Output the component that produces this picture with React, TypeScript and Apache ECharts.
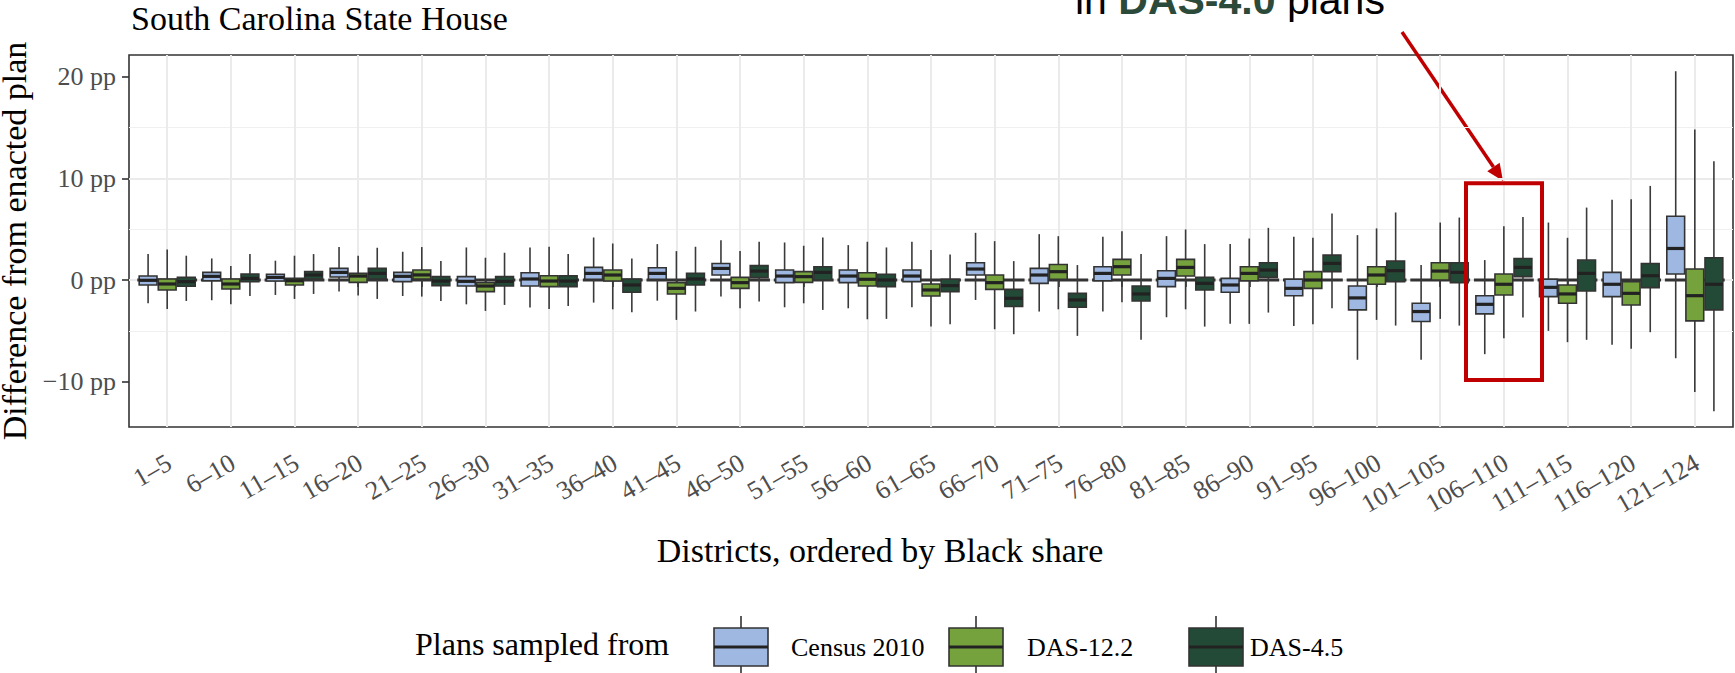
import React, { useEffect, useRef } from 'react';
import * as echarts from 'echarts';

const categories = [
  '1–5', '6–10', '11–15', '16–20', '21–25', '26–30', '31–35', '36–40', '41–45', '46–50',
  '51–55', '56–60', '61–65', '66–70', '71–75', '76–80', '81–85', '86–90', '91–95', '96–100',
  '101–105', '106–110', '111–115', '116–120', '121–124',
];

const seriesNames = ['Census 2010', 'DAS-12.2', 'DAS-4.5'];
const seriesColors = ['#9EB8E2', '#76A23E', '#234A36'];

// [min, q1, median, q3, max] in percentage points
const census2010 = [
  [-2.29, -0.49, -0.03, 0.39, 2.55],
  [-1.99, -0.07, 0.36, 0.75, 2.12],
  [-1.47, -0.10, 0.26, 0.56, 1.90],
  [-1.14, 0.29, 0.75, 1.14, 3.24],
  [-1.57, -0.16, 0.36, 0.75, 2.78],
  [-2.39, -0.59, -0.13, 0.33, 3.20],
  [-2.71, -0.59, 0.10, 0.72, 3.20],
  [-2.22, 0.07, 0.65, 1.24, 4.18],
  [-2.03, 0.07, 0.65, 1.21, 3.53],
  [-1.63, 0.49, 1.14, 1.63, 3.92],
  [-2.68, -0.26, 0.39, 0.98, 3.69],
  [-2.78, -0.26, 0.39, 0.98, 3.43],
  [-2.68, -0.16, 0.39, 0.98, 3.76],
  [-1.96, 0.49, 1.08, 1.70, 4.64],
  [-3.10, -0.33, 0.49, 1.14, 4.51],
  [-3.10, -0.07, 0.65, 1.31, 4.25],
  [-3.66, -0.65, 0.16, 0.91, 4.31],
  [-4.31, -1.20, -0.49, 0.16, 3.53],
  [-4.51, -1.54, -0.82, 0.07, 4.25],
  [-7.84, -2.94, -1.76, -0.59, 4.41],
  [-7.84, -4.08, -3.10, -2.29, 1.47],
  [-7.29, -3.33, -2.39, -1.54, 1.96],
  [-5.00, -1.63, -0.72, 0.07, 5.65],
  [-6.37, -1.63, -0.42, 0.75, 7.90],
  [-7.68, 0.59, 3.10, 6.27, 20.52],
];

const das122 = [
  [-2.84, -0.98, -0.39, 0.10, 3.00],
  [-2.39, -0.88, -0.39, 0.10, 1.37],
  [-1.86, -0.49, -0.07, 0.16, 2.39],
  [-1.53, -0.23, 0.39, 0.65, 2.39],
  [-1.63, 0.10, 0.50, 0.98, 3.24],
  [-3.04, -1.14, -0.59, -0.26, 2.19],
  [-2.84, -0.65, -0.10, 0.42, 3.27],
  [-2.88, -0.10, 0.49, 0.98, 3.59],
  [-3.92, -1.37, -0.82, -0.26, 2.84],
  [-2.78, -0.82, -0.26, 0.26, 2.84],
  [-2.29, -0.23, 0.33, 0.82, 3.37],
  [-3.86, -0.59, 0.07, 0.72, 3.76],
  [-4.58, -1.57, -0.98, -0.39, 2.94],
  [-4.84, -0.92, -0.26, 0.49, 3.82],
  [-2.88, 0.07, 0.82, 1.53, 4.31],
  [-2.19, 0.49, 1.31, 2.03, 4.80],
  [-2.88, 0.39, 1.24, 2.03, 4.97],
  [-4.31, -0.07, 0.65, 1.31, 4.08],
  [-4.35, -0.82, 0.00, 0.82, 4.15],
  [-3.92, -0.42, 0.49, 1.31, 5.07],
  [-3.82, 0.00, 0.88, 1.70, 5.65],
  [-5.72, -1.47, -0.42, 0.59, 5.29],
  [-6.11, -2.29, -1.37, -0.49, 4.15],
  [-6.76, -2.45, -1.31, -0.16, 7.94],
  [-11.0, -4.02, -1.54, 1.08, 14.8],
];

const das45 = [
  [-2.06, -0.62, -0.16, 0.26, 2.39],
  [-1.57, -0.16, 0.16, 0.59, 2.55],
  [-1.37, 0.10, 0.49, 0.82, 2.55],
  [-1.86, 0.10, 0.65, 1.14, 3.17],
  [-2.06, -0.55, -0.10, 0.33, 1.86],
  [-2.45, -0.59, -0.13, 0.33, 2.68],
  [-2.55, -0.65, -0.10, 0.42, 2.55],
  [-3.17, -1.20, -0.49, 0.10, 2.12],
  [-3.10, -0.49, 0.10, 0.65, 3.27],
  [-2.12, 0.23, 0.88, 1.41, 3.76],
  [-2.94, 0.00, 0.75, 1.31, 4.18],
  [-3.82, -0.65, 0.00, 0.56, 3.20],
  [-4.35, -1.14, -0.55, 0.07, 2.50],
  [-5.33, -2.61, -1.80, -0.92, 1.86],
  [-5.49, -2.68, -1.96, -1.31, 1.47],
  [-5.88, -2.06, -1.37, -0.59, 2.55],
  [-4.58, -0.98, -0.33, 0.26, 3.53],
  [-3.20, 0.26, 0.98, 1.70, 5.13],
  [-2.78, 0.82, 1.63, 2.45, 6.54],
  [-4.48, -0.16, 0.92, 1.86, 6.64],
  [-4.48, -0.26, 0.75, 1.70, 6.14],
  [-3.69, 0.33, 1.24, 2.12, 6.20],
  [-5.88, -1.08, 0.65, 1.96, 7.12],
  [-5.13, -0.75, 0.42, 1.63, 9.25],
  [-12.9, -2.94, -0.42, 2.19, 11.67],
];

// Enacted plan reference (difference from itself)
const enacted = [0, 0, 0, 0, 0, 0, 0, 0, 0, 0, 0, 0, 0, 0, 0, 0, 0, 0, 0, 0, 0, 0, 0, 0, 0];

const yTicks = [-10, 0, 10, 20];
const yMin = -14.45;
const yMax = 22.12;

const SERIF = "'Liberation Serif', 'Times New Roman', serif";
const SANS = "'Liberation Sans', Arial, sans-serif";

const PANEL = { left: 129, top: 55, right: 1733, bottom: 427 };
const EXPAND = 0.6; // discrete expansion (in category units)

function boxRenderer(slot: number, color: string) {
  return (params: any, api: any) => {
    const x = api.value(0);
    const band = api.size([1, 0])[0];
    const lo = api.coord([x, api.value(1)]);
    const q1 = api.coord([x, api.value(2)]);
    const md = api.coord([x, api.value(3)]);
    const q3 = api.coord([x, api.value(4)]);
    const hi = api.coord([x, api.value(5)]);
    const cx = lo[0] + slot * band * 0.3;
    const w = band * 0.28;
    return {
      type: 'group',
      children: [
        {
          type: 'line',
          shape: { x1: cx, y1: hi[1], x2: cx, y2: lo[1] },
          style: { stroke: '#3a3a3a', lineWidth: 1.6 },
        },
        {
          type: 'rect',
          shape: { x: cx - w / 2, y: q3[1], width: w, height: q1[1] - q3[1] },
          style: { fill: color, stroke: '#333333', lineWidth: 1.6 },
        },
        {
          type: 'line',
          shape: { x1: cx - w / 2, y1: md[1], x2: cx + w / 2, y2: md[1] },
          style: { stroke: '#222222', lineWidth: 3.2 },
        },
      ],
    };
  };
}

function enactedRenderer(params: any, api: any) {
  const x = api.value(0);
  const band = api.size([1, 0])[0];
  const p = api.coord([x, api.value(1)]);
  return {
    type: 'line',
    shape: { x1: p[0] - band * 0.47, y1: p[1], x2: p[0] + band * 0.47, y2: p[1] },
    style: { stroke: '#333333', lineWidth: 3 },
  };
}

function legendGraphics() {
  const keyY = 628;
  const keyH = 38;
  const keyW = 54;
  const keys = [
    { x: 714, label: seriesNames[0], lx: 791 },
    { x: 949, label: seriesNames[1], lx: 1027 },
    { x: 1189, label: seriesNames[2], lx: 1250 },
  ];
  const els: any[] = [
    {
      type: 'text',
      left: 415,
      top: 628,
      style: { text: 'Plans sampled from', font: `32px ${SERIF}`, fill: '#000' },
    },
  ];
  keys.forEach((k, i) => {
    const cx = k.x + keyW / 2;
    els.push(
      { type: 'line', shape: { x1: cx, y1: keyY - 12, x2: cx, y2: keyY }, style: { stroke: '#333', lineWidth: 1.6 } },
      { type: 'line', shape: { x1: cx, y1: keyY + keyH, x2: cx, y2: keyY + keyH + 12 }, style: { stroke: '#333', lineWidth: 1.6 } },
      {
        type: 'rect',
        shape: { x: k.x, y: keyY, width: keyW, height: keyH },
        style: { fill: seriesColors[i], stroke: '#333', lineWidth: 1.6 },
      },
      {
        type: 'line',
        shape: { x1: k.x, y1: keyY + keyH / 2, x2: k.x + keyW, y2: keyY + keyH / 2 },
        style: { stroke: '#222', lineWidth: 3 },
      },
      {
        type: 'text',
        x: k.lx,
        y: keyY + keyH / 2,
        style: { text: k.label, font: `26px ${SERIF}`, fill: '#000', verticalAlign: 'middle' },
      }
    );
  });
  return els;
}

function annotationGraphics() {
  const tip = [1503, 181];
  const start = [1402, 32];
  const dx = tip[0] - start[0];
  const dy = tip[1] - start[1];
  const len = Math.sqrt(dx * dx + dy * dy);
  const ux = dx / len;
  const uy = dy / len;
  const headLen = 17;
  const headHalf = 7.5;
  const bx = tip[0] - ux * headLen;
  const by = tip[1] - uy * headLen;
  const fs = 41;
  return [
    {
      type: 'text',
      x: 1075,
      y: 14 - 0.347 * fs,
      style: {
        text: 'in {b|DAS-4.0} plans',
        font: `${fs}px ${SANS}`,
        fill: '#000',
        verticalAlign: 'middle',
        rich: {
          b: { font: `bold ${fs}px ${SANS}`, fill: '#2B4A3A', verticalAlign: 'middle' },
        },
      },
    },
    {
      type: 'line',
      shape: { x1: start[0], y1: start[1], x2: bx, y2: by },
      style: { stroke: '#C00000', lineWidth: 3.5 },
    },
    {
      type: 'polygon',
      shape: {
        points: [
          [tip[0], tip[1]],
          [bx - uy * headHalf, by + ux * headHalf],
          [bx + uy * headHalf, by - ux * headHalf],
        ],
      },
      style: { fill: '#C00000' },
    },
    {
      type: 'rect',
      shape: { x: 1466, y: 183.3, width: 76, height: 196.7 },
      style: { fill: 'none', stroke: '#C00000', lineWidth: 4 },
      z: 100,
    },
  ];
}

export default function App() {
  const ref = useRef<HTMLDivElement>(null);

  useEffect(() => {
    document.body.style.margin = '0';
    const el = ref.current!;
    const chart = echarts.init(el, null, { renderer: 'svg' });

    const panelW = PANEL.right - PANEL.left;
    const band = panelW / (categories.length - 1 + 2 * EXPAND);
    const dataLeft = PANEL.left + band * EXPAND;
    const dataWidth = band * (categories.length - 1);

    const mk = (arr: number[][]) => arr.map((r, i) => [i, ...r]);

    const option: any = {
      animation: false,
      backgroundColor: '#ffffff',
      title: {
        text: 'South Carolina State House',
        left: 126,
        top: -4,
        textStyle: { fontFamily: SERIF, fontSize: 34, fontWeight: 'normal', color: '#000' },
      },
      grid: [
        {
          left: dataLeft,
          top: PANEL.top,
          width: dataWidth,
          height: PANEL.bottom - PANEL.top,
          show: false,
          containLabel: false,
          outerBoundsMode: 'none',
        },
        {
          left: PANEL.left,
          top: PANEL.top,
          width: panelW,
          height: PANEL.bottom - PANEL.top,
          show: true,
          borderColor: '#333333',
          borderWidth: 1.6,
          backgroundColor: 'transparent',
          containLabel: false,
          outerBoundsMode: 'none',
        },
      ],
      xAxis: [
        {
          type: 'category',
          gridIndex: 0,
          data: categories,
          boundaryGap: false,
          axisLine: { show: false },
          axisTick: { show: true, interval: 0, length: 7, lineStyle: { color: '#333', width: 1.6 } },
          axisLabel: {
            interval: 0,
            rotate: 30,
            margin: 20,
            align: 'right',
            verticalAlign: 'top',
            padding: [0, 5, 0, 0],
            fontFamily: SERIF,
            fontSize: 26,
            color: '#4D4D4D',
          },
          splitLine: { show: true, interval: 0, lineStyle: { color: '#EBEBEB', width: 2 } },
          name: 'Districts, ordered by Black share',
          nameLocation: 'middle',
          nameGap: 106,
          nameTextStyle: { fontFamily: SERIF, fontSize: 34, color: '#000', padding: [0, 102, 0, 0] },
        },
        { type: 'value', gridIndex: 1, min: 0, max: 1, show: false },
      ],
      yAxis: [
        { type: 'value', gridIndex: 0, min: yMin, max: yMax, show: false },
        {
          type: 'value',
          gridIndex: 1,
          min: yMin,
          max: yMax,
          minInterval: 10,
          maxInterval: 10,
          axisLine: { show: false },
          axisTick: {
            show: true,
            length: 7,
            customValues: yTicks,
            lineStyle: { color: '#333', width: 1.6 },
          },
          minorTick: { show: false, splitNumber: 2 },
          axisLabel: {
            customValues: yTicks,
            margin: 13,
            fontFamily: SERIF,
            fontSize: 26,
            color: '#4D4D4D',
            formatter: (v: number) => (v < 0 ? `−${-v} pp` : `${v} pp`),
          },
          splitLine: { show: true, showMinLine: false, showMaxLine: false, lineStyle: { color: '#EBEBEB', width: 2 } },
          minorSplitLine: { show: true, lineStyle: { color: '#F0F0F0', width: 1.2 } },
          name: 'Difference from enacted plan',
          nameLocation: 'middle',
          nameGap: 92,
          nameTextStyle: { fontFamily: SERIF, fontSize: 34, color: '#000' },
        },
      ],
      series: [
        {
          name: 'Enacted plan',
          type: 'custom',
          xAxisIndex: 0,
          yAxisIndex: 0,
          data: enacted.map((v, i) => [i, v]),
          encode: { x: 0, y: 1 },
          renderItem: enactedRenderer,
          silent: true,
        },
        ...[census2010, das122, das45].map((arr, s) => ({
          name: seriesNames[s],
          type: 'custom',
          xAxisIndex: 0,
          yAxisIndex: 0,
          data: mk(arr),
          encode: { x: 0, y: [1, 2, 3, 4, 5] },
          renderItem: boxRenderer(s - 1, seriesColors[s]),
        })),
      ],
      graphic: [...legendGraphics(), ...annotationGraphics()],
    };

    chart.setOption(option);
    return () => chart.dispose();
  }, []);

  return <div ref={ref} style={{ width: 1735, height: 673 }} />;
}
